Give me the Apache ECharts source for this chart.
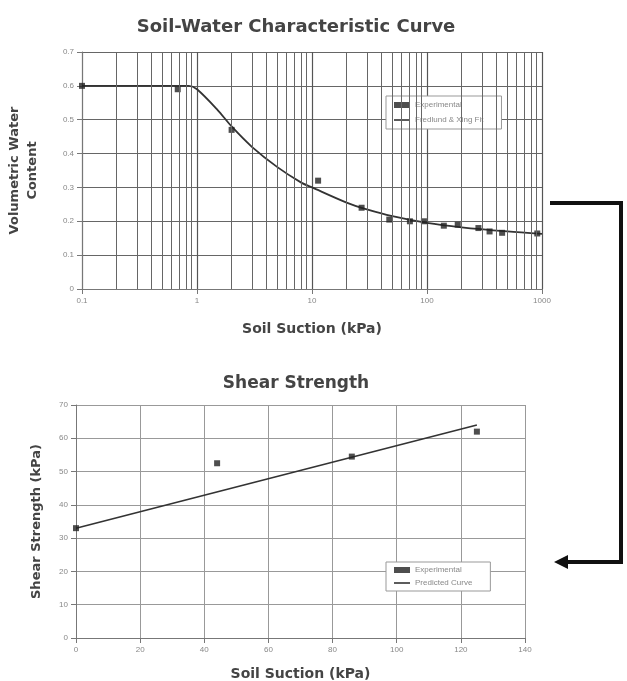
<!DOCTYPE html>
<html><head><meta charset="utf-8">
<script src="https://cdn.jsdelivr.net/npm/echarts@6/dist/echarts.min.js"></script>
<style>html,body{margin:0;padding:0;background:#fff}#c{width:627px;height:681px}</style>
</head><body><div id="c"></div>
<script>
// Soil-water characteristic curve data
const swccSuction = [0.1, 0.68, 2.0, 11.3, 27, 47, 71, 94, 140, 185, 280, 350, 450, 910];
const swccTheta   = [0.60, 0.59, 0.47, 0.32, 0.24, 0.205, 0.20, 0.20, 0.187, 0.19, 0.18, 0.17, 0.166, 0.164];
const fitSuction  = [0.1, 0.5, 0.85, 1.0, 1.5, 2.0, 3.0, 5.0, 8.0, 10, 20, 30, 50, 100, 200, 500, 1000];
const fitTheta    = [0.60, 0.60, 0.60, 0.59, 0.53, 0.48, 0.42, 0.36, 0.315, 0.30, 0.255, 0.235, 0.215, 0.195, 0.182, 0.17, 0.163];
const thetaTicks  = [0, 0.1, 0.2, 0.3, 0.4, 0.5, 0.6, 0.7];
const suctionTicks = [0.1, 1, 10, 100, 1000];
// Shear strength data
const shearSuction = [0, 44, 86, 125];
const shearStrength = [33, 52.5, 54.5, 62];
const predSuction = [0, 125];
const predStrength = [33, 64];
const shearXTicks = [0, 20, 40, 60, 80, 100, 120, 140];
const shearYTicks = [0, 10, 20, 30, 40, 50, 60, 70];

const minorX = [];
[0.1, 1, 10, 100].forEach(d => { for (let k = 2; k <= 9; k++) minorX.push(+(d * k).toPrecision(3)); });

const FONT = 'Liberation Sans';
const BOLD = 'DejaVu Sans';
const LINE_ICON = 'path://M0,0L20,0L20,2L0,2Z';
const chart = echarts.init(document.getElementById('c'));
chart.setOption({
  animation: false,
  textStyle: { fontFamily: FONT },
  title: [
    { text: 'Soil-Water Characteristic Curve', left: 291, top: 13, textAlign: 'center',
      textStyle: { fontSize: 18, fontWeight: 'bold', color: '#444', fontFamily: BOLD } },
    { text: 'Shear Strength', left: 291, top: 370, textAlign: 'center',
      textStyle: { fontSize: 17, fontWeight: 'bold', color: '#444', fontFamily: BOLD } }
  ],
  grid: [
    { left: 82, top: 52, width: 460, height: 237, outerBoundsMode: 'none', containLabel: false },
    { left: 76, top: 405, width: 449, height: 233, outerBoundsMode: 'none', containLabel: false }
  ],
  xAxis: [
    { gridIndex: 0, type: 'log', logBase: 10, min: 0.1, max: 1000,
      axisLine: { lineStyle: { color: '#777' } }, axisTick: { show: true, lineStyle: { color: '#777' } },
      axisLabel: { color: '#888', fontSize: 8, formatter: v => suctionTicks.includes(+v) ? String(v) : '' },
      splitLine: { show: true, lineStyle: { color: '#555', width: 1.2 } },
      name: 'Soil Suction (kPa)', nameLocation: 'middle', nameGap: 33,
      nameTextStyle: { fontSize: 14, fontWeight: 'bold', color: '#444', fontFamily: BOLD } },
    { gridIndex: 1, type: 'value', min: 0, max: 140, interval: 20,
      axisLine: { lineStyle: { color: '#777' } }, axisTick: { lineStyle: { color: '#777' } },
      axisLabel: { color: '#888', fontSize: 8, formatter: v => shearXTicks.includes(v) ? String(v) : '' },
      splitLine: { show: true, lineStyle: { color: '#999' } },
      name: 'Soil Suction (kPa)', nameLocation: 'middle', nameGap: 29,
      nameTextStyle: { fontSize: 14, fontWeight: 'bold', color: '#444', fontFamily: BOLD } }
  ],
  yAxis: [
    { gridIndex: 0, type: 'value', min: 0, max: 0.7, interval: 0.1,
      axisLine: { show: true, lineStyle: { color: '#777' } }, axisTick: { show: true, lineStyle: { color: '#777' } },
      axisLabel: { color: '#888', fontSize: 8, formatter: v => thetaTicks.some(t => Math.abs(t - v) < 1e-9) ? (v === 0 ? '0' : v.toFixed(1)) : '' },
      splitLine: { show: true, lineStyle: { color: '#666' } },
      name: 'Volumetric Water\nContent', nameLocation: 'middle', nameGap: 40,
      nameTextStyle: { fontSize: 13, fontWeight: 'bold', color: '#444', lineHeight: 18, fontFamily: BOLD } },
    { gridIndex: 1, type: 'value', min: 0, max: 70, interval: 10,
      axisLine: { show: true, lineStyle: { color: '#777' } }, axisTick: { show: true, lineStyle: { color: '#777' } },
      axisLabel: { color: '#888', fontSize: 8, formatter: v => shearYTicks.includes(v) ? String(v) : '' },
      splitLine: { show: true, lineStyle: { color: '#999' } },
      name: 'Shear Strength (kPa)', nameLocation: 'middle', nameGap: 33,
      nameTextStyle: { fontSize: 13, fontWeight: 'bold', color: '#444', fontFamily: BOLD } }
  ],
  legend: [
    { data: [{ name: 'Experimental', icon: 'rect' }, { name: 'Fredlund & Xing Fit', icon: LINE_ICON }],
      left: 386, top: 96, orient: 'vertical', itemGap: 7, itemWidth: 16, itemHeight: 6,
      backgroundColor: '#fff', borderColor: '#999', borderWidth: 1, padding: [5, 18, 5, 8],
      textStyle: { fontSize: 8, color: '#888' } },
    { data: [{ name: 'Experimental ', icon: 'rect' }, { name: 'Predicted Curve', icon: LINE_ICON }],
      left: 386, top: 562, orient: 'vertical', itemGap: 5, itemWidth: 16, itemHeight: 6,
      backgroundColor: '#fff', borderColor: '#999', borderWidth: 1, padding: [4, 18, 4, 8],
      textStyle: { fontSize: 8, color: '#888' } }
  ],
  series: [
    { name: 'minor', type: 'line', xAxisIndex: 0, yAxisIndex: 0, data: [], silent: true,
      markLine: { silent: true, symbol: 'none', label: { show: false },
        lineStyle: { color: '#666', type: 'solid', width: 1 },
        data: minorX.map(v => ({ xAxis: v })) } },
    { name: 'Fredlund & Xing Fit', type: 'line', xAxisIndex: 0, yAxisIndex: 0, smooth: 0.3,
      symbol: 'none', lineStyle: { color: '#333', width: 1.8 }, itemStyle: { color: '#333' },
      data: fitSuction.map((x, i) => [x, fitTheta[i]]), z: 3 },
    { name: 'Experimental', type: 'scatter', xAxisIndex: 0, yAxisIndex: 0, symbol: 'rect', symbolSize: 6,
      itemStyle: { color: '#222' }, data: swccSuction.map((x, i) => [x, swccTheta[i]]), z: 4 },
    { name: 'Predicted Curve', type: 'line', xAxisIndex: 1, yAxisIndex: 1, symbol: 'none',
      lineStyle: { color: '#333', width: 1.6 }, itemStyle: { color: '#333' },
      data: predSuction.map((x, i) => [x, predStrength[i]]), z: 3 },
    { name: 'Experimental ', type: 'scatter', xAxisIndex: 1, yAxisIndex: 1, symbol: 'rect', symbolSize: 6,
      itemStyle: { color: '#222' }, data: shearSuction.map((x, i) => [x, shearStrength[i]]), z: 4 }
  ],
  graphic: [
    { type: 'polyline', shape: { points: [[550, 203], [621, 203], [621, 562], [566, 562]] },
      style: { stroke: '#111', lineWidth: 4, fill: null } },
    { type: 'polygon', shape: { points: [[554, 562], [568, 555], [568, 569]] },
      style: { fill: '#111' } }
  ]
});
</script></body></html>
